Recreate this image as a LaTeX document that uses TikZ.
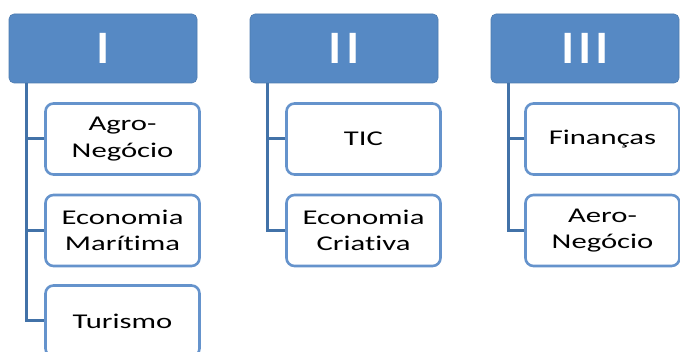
\documentclass[tikz,border=0pt]{standalone}
\usepackage{fontspec}
\setmainfont{Carlito}[FakeStretch=1.46, Ligatures={NoCommon}]
\usetikzlibrary{positioning}

\definecolor{headblue}{HTML}{5689C4}
\definecolor{linkblue}{HTML}{4272A8}
\definecolor{edgeblue}{HTML}{6593CC}

\begin{document}
\begin{tikzpicture}[
  x=1pt,y=-1pt,
  head/.style={fill=headblue, draw=headblue!90!black, line width=0.6pt, rounded corners=5pt,
    minimum width=188pt, minimum height=69pt, text=white, font=\fontsize{47}{47}\selectfont},
  item/.style={draw=edgeblue, line width=2.6pt, fill=white, rounded corners=8pt, align=center,
    minimum width=154pt, minimum height=71pt, font=\fontsize{21}{26.5}\selectfont},
  link/.style={draw=linkblue, line width=3pt}
]
\useasboundingbox (0,0) rectangle (680,352);
\clip (0,0) rectangle (680,352);

% column heads
\node[head] (h1) at (103,48.5) {I};
\node[head] (h2) at (344,48.5) {II};
\node[head] (h3) at (585,48.5) {III};

% branch coordinates under each head
\coordinate (t1) at ([xshift=18pt]h1.south west);
\coordinate (t2) at ([xshift=18pt]h2.south west);
\coordinate (t3) at ([xshift=18pt]h3.south west);

% column I
\node[item] (a1) at (122.5,139) {Agro-\\Negócio};
\node[item] (a2) at (122.5,230.5) {Economia\\Marítima};
\node[item] (a3) at (122.5,321) {Turismo};

% column II
\node[item] (b1) at (363.5,139) {TIC};
\node[item] (b2) at (363.5,230.5) {Economia\\Criativa};

% column III
\node[item] (c1) at (602.5,139) {Finanças};
\node[item] (c2) at (602.5,230.5) {Aero-\\Negócio};

\begin{scope}[on background layer/.try]
\draw[link] (t1) |- (a3.west);
\draw[link] (t1) |- (a2.west);
\draw[link] (t1) |- (a1.west);
\draw[link] (t2) |- (b2.west);
\draw[link] (t2) |- (b1.west);
\draw[link] (t3) |- (c2.west);
\draw[link] (t3) |- (c1.west);
\end{scope}
\end{tikzpicture}
\end{document}
